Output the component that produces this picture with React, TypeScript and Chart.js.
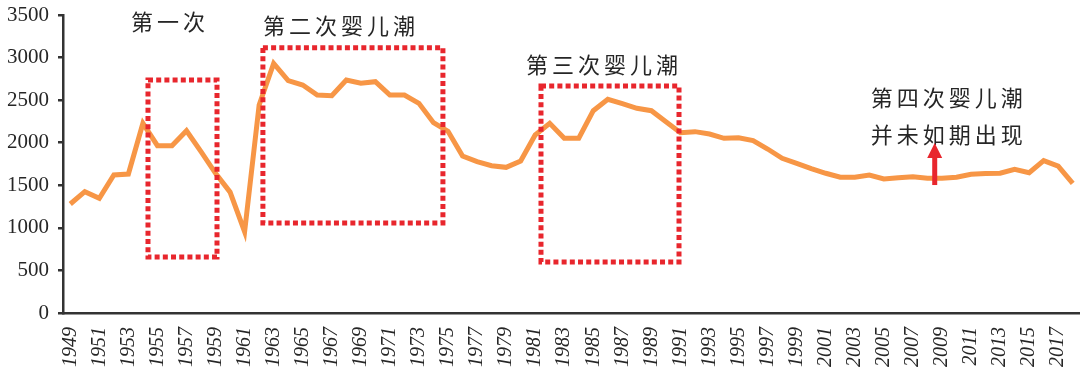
import React, { useEffect, useRef } from "react";
import { Chart, registerables } from "chart.js";

Chart.register(...registerables);

const years: string[] = [];
for (let y = 1949; y <= 2018; y++) years.push(String(y));

const births: number[] = [
  1280, 1425, 1347, 1621, 1632, 2228, 1965, 1965, 2141, 1895,
  1640, 1420, 955, 2443, 2932, 2729, 2678, 2560, 2552, 2737,
  2698, 2717, 2560, 2560, 2463, 2235, 2135, 1844, 1777, 1730,
  1711, 1785, 2091, 2228, 2052, 2052, 2376, 2510, 2460, 2404,
  2376, 2247, 2118, 2130, 2102, 2052, 2059, 2024, 1926, 1817,
  1758, 1695, 1641, 1594, 1594, 1621, 1574, 1589, 1601, 1582,
  1582, 1594, 1629, 1637, 1641, 1688, 1648, 1789, 1726, 1523,
];

const yTicks = [0, 500, 1000, 1500, 2000, 2500, 3000, 3500];

// dotted boxes: [startIndex, endIndex, topValue, bottomValue]
const boxes: [number, number, number, number][] = [
  [5.35, 10.1, 2737, 658],
  [13.26, 25.65, 3115, 1057],
  [32.4, 41.9, 2666, 599],
];

// text annotations: [text, startIndex, centerValue]
const notes: [string, number, number][] = [
  ["第一次", 4.18, 3418],
  ["第二次婴儿潮", 13.26, 3371],
  ["第三次婴儿潮", 31.36, 2913],
  ["第四次婴儿潮", 55.1, 2525],
  ["并未如期出现", 55.1, 2091],
];

// arrow: [index, fromValue, toValue]
const arrow: [number, number, number] = [59.5, 1503, 1997];

const annotationPlugin = {
  id: "annotations",
  afterDatasetsDraw(chart: any) {
    const ctx = chart.ctx;
    const xs = chart.scales.x;
    const ys = chart.scales.y;
    const p0 = xs.getPixelForValue(0);
    const step = xs.getPixelForValue(1) - p0;
    const px = (i: number) => p0 + i * step;
    ctx.save();
    ctx.strokeStyle = "#E8262D";
    ctx.lineWidth = 5;
    ctx.setLineDash([5, 3.2]);
    ctx.lineCap = "butt";
    for (const [a, b, t, bt] of boxes) {
      const x1 = px(a), x2 = px(b);
      const y1 = ys.getPixelForValue(t), y2 = ys.getPixelForValue(bt);
      ctx.strokeRect(x1, y1, x2 - x1, y2 - y1);
    }
    ctx.setLineDash([]);
    ctx.fillStyle = "#262626";
    ctx.font = '22px "Noto Sans CJK SC", sans-serif';
    ctx.textAlign = "left";
    ctx.textBaseline = "middle";
    for (const [text, i, v] of notes) {
      const x = px(i);
      const y = ys.getPixelForValue(v);
      Array.from(text).forEach((ch, k) => ctx.fillText(ch, x + k * 26, y));
    }
    const ax = px(arrow[0]);
    const ayb = ys.getPixelForValue(arrow[1]);
    const ayt = ys.getPixelForValue(arrow[2]);
    ctx.fillStyle = "#E8262D";
    ctx.fillRect(ax - 2.5, ayt + 13, 5, ayb - ayt - 13);
    ctx.beginPath();
    ctx.moveTo(ax, ayt);
    ctx.lineTo(ax - 7.5, ayt + 15);
    ctx.lineTo(ax + 7.5, ayt + 15);
    ctx.closePath();
    ctx.fill();
    ctx.restore();
  },
};

export default function App() {
  const ref = useRef<HTMLCanvasElement>(null);
  useEffect(() => {
    if (!ref.current) return;
    const chart = new Chart(ref.current, {
      type: "line",
      data: {
        labels: years,
        datasets: [
          {
            data: births,
            borderColor: "#F79646",
            borderWidth: 5,
            pointRadius: 0,
            tension: 0,
            fill: false,
          },
        ],
      },
      options: {
        animation: false,
        responsive: true,
        maintainAspectRatio: false,
        layout: { padding: { top: 15, left: 0, right: 0, bottom: 0 } },
        plugins: { legend: { display: false }, tooltip: { enabled: false } },
        scales: {
          x: {
            type: "category",
            offset: true,
            afterFit: (s: any) => {
              s.height = 64;
              s.paddingLeft = 0;
              s.paddingRight = 0;
            },
            grid: { display: false, drawTicks: false },
            border: { display: true, color: "#333333", width: 2.5 },
            ticks: {
              autoSkip: false,
              maxRotation: 90,
              minRotation: 90,
              padding: 14,
              color: "#262626",
              font: { family: '"Liberation Serif", serif', size: 20, style: "italic" },
              callback: (_v: any, i: number) => (i % 2 === 0 ? years[i] : ""),
            },
          },
          y: {
            min: 0,
            max: 3500,
            afterFit: (s: any) => {
              s.width = 63;
              s.paddingTop = 0;
              s.paddingBottom = 0;
            },
            afterBuildTicks: (s: any) => {
              s.ticks = yTicks.map((v) => ({ value: v }));
            },
            grid: { drawOnChartArea: false, drawTicks: true, tickLength: 5, color: "#333333", lineWidth: 2.5 },
            border: { display: true, color: "#333333", width: 2.5 },
            ticks: {
              padding: 9,
              color: "#262626",
              font: { family: '"Liberation Serif", serif', size: 21 },
              callback: (v: any) => String(v),
            },
          },
        },
      },
      plugins: [annotationPlugin],
    });
    return () => chart.destroy();
  }, []);
  return (
    <div style={{ position: "fixed", left: 0, top: 0, width: 1080, height: 377, background: "#fff" }}>
      <canvas ref={ref} />
    </div>
  );
}
